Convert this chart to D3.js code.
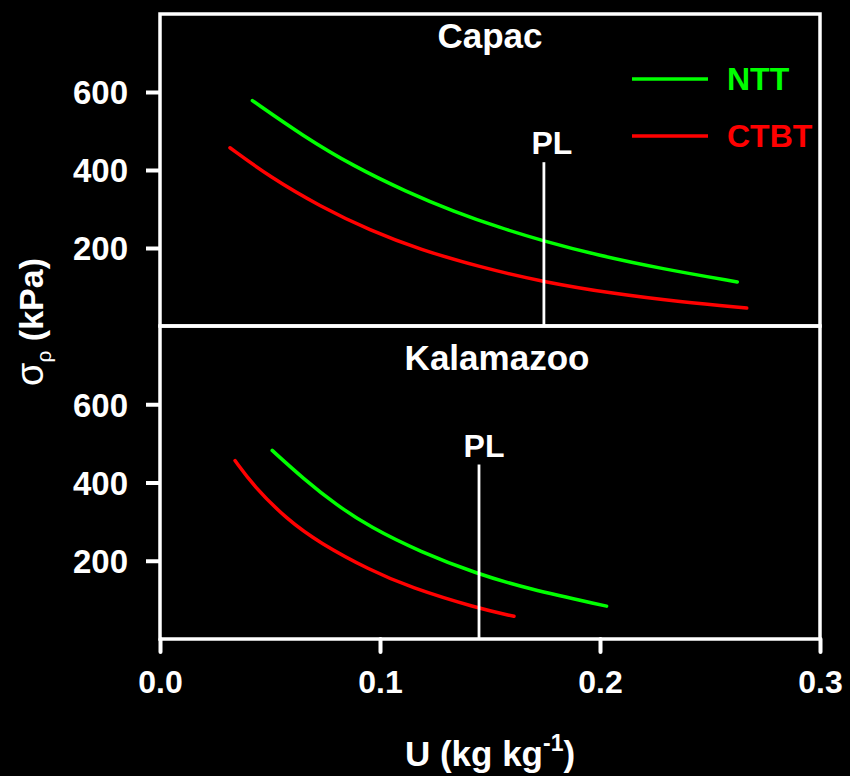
<!DOCTYPE html>
<html>
<head>
<meta charset="utf-8">
<script src="https://cdn.jsdelivr.net/npm/d3@7"></script>
<style>
  html, body { margin: 0; padding: 0; background: #000; }
  svg { display: block; }
</style>
</head>
<body>
<svg id="chart" width="850" height="776"></svg>
<script>
// Preconsolidation stress vs. water content for two soils
const panelNames = ["Capac", "Kalamazoo"];
const seriesNames = ["NTT", "CTBT"];
const seriesColors = ["#00ff00", "#ff0000"];

const xTicks = [0.0, 0.1, 0.2, 0.3];
const yTicks = [200, 400, 600];

// Capac
const capacNttU = [0.042, 0.0651, 0.0879, 0.1121, 0.1333, 0.1545, 0.1742, 0.1985, 0.2288, 0.2624];
const capacNttS = [578, 487, 410, 344, 294, 252, 218, 182, 146, 113];
const capacCtbtU = [0.0318, 0.05, 0.0727, 0.0955, 0.1182, 0.1455, 0.1742, 0.206, 0.2364, 0.2667];
const capacCtbtS = [457, 382, 307, 245, 196, 151, 113, 83, 62, 46];
const capacPL = 0.1745;

// Kalamazoo
const kalNttU = [0.051, 0.0651, 0.0803, 0.0955, 0.1182, 0.144, 0.1667, 0.203];
const kalNttS = [482, 410, 342, 286, 223, 167, 129, 84];
const kalCtbtU = [0.0341, 0.0424, 0.0576, 0.0727, 0.0955, 0.1136, 0.144, 0.1609];
const kalCtbtS = [456, 392, 306, 245, 176, 132, 79, 58];
const kalPL = 0.145;

const plTop = [420, 446];   // upper end of each PL marker (kPa)

const panels = [
  { name: panelNames[0], series: [[capacNttU, capacNttS], [capacCtbtU, capacCtbtS]], pl: capacPL, plTop: plTop[0] },
  { name: panelNames[1], series: [[kalNttU, kalNttS], [kalCtbtU, kalCtbtS]], pl: kalPL, plTop: plTop[1] }
];

const svg = d3.select("#chart");
const W = 850, H = 776;
svg.append("rect").attr("width", W).attr("height", H).attr("fill", "#000");

const left = 160, right = 820;
const panelBounds = [[14, 326], [326, 639]];
const boldFont = "'Liberation Sans', Arial, sans-serif";
const narrowFont = "'Liberation Sans Narrow', 'Arial Narrow', 'Liberation Sans', sans-serif";

const x = d3.scaleLinear().domain([0, 0.3]).range([left, right]);

panels.forEach((p, i) => {
  const [top, bottom] = panelBounds[i];
  const y = d3.scaleLinear().domain([0, 800]).range([bottom, top]);
  const g = svg.append("g");

  // y axis ticks
  const ya = g.append("g")
    .attr("transform", `translate(${left},0)`)
    .call(d3.axisLeft(y).tickValues(yTicks).tickSize(14).tickPadding(18).tickFormat(d3.format("d")));
  ya.select(".domain").remove();
  ya.selectAll(".tick line").attr("stroke", "#fff").attr("stroke-width", 4);
  ya.selectAll(".tick text")
    .attr("fill", "#fff")
    .attr("font-family", boldFont)
    .attr("font-weight", "bold")
    .attr("font-size", 33)
    .attr("dy", "0.36em");

  // fitted curves
  const line = d3.line().x(d => x(d[0])).y(d => y(d[1])).curve(d3.curveBasis);
  p.series.forEach((s, k) => {
    const pts = s[0].map((u, j) => [u, s[1][j]]);
    g.append("path")
      .attr("d", line(pts))
      .attr("fill", "none")
      .attr("stroke", seriesColors[k])
      .attr("stroke-width", 3.5)
      .attr("stroke-linecap", "round");
  });

  // PL marker
  g.append("line")
    .attr("x1", x(p.pl)).attr("x2", x(p.pl))
    .attr("y1", y(p.plTop)).attr("y2", bottom)
    .attr("stroke", "#fff").attr("stroke-width", 2.8);
  g.append("text")
    .attr("x", x(p.pl) + (i === 0 ? 8 : 5))
    .attr("y", y(p.plTop) - 8)
    .attr("text-anchor", "middle")
    .attr("fill", "#fff")
    .attr("font-family", boldFont)
    .attr("font-weight", "bold")
    .attr("font-size", 32)
    .text("PL");

  // panel title
  g.append("text")
    .attr("x", i === 0 ? 490 : 497)
    .attr("y", i === 0 ? 48 : 370)
    .attr("text-anchor", "middle")
    .attr("fill", "#fff")
    .attr("font-family", boldFont)
    .attr("font-weight", "bold")
    .attr("font-size", 35)
    .text(p.name);

  // frame
  g.append("rect")
    .attr("x", left).attr("y", top)
    .attr("width", right - left).attr("height", bottom - top)
    .attr("fill", "none")
    .attr("stroke", "#fff")
    .attr("stroke-width", 3.5);
});

// x axis along the lower panel
const xa = svg.append("g")
  .attr("transform", `translate(0,${panelBounds[1][1]})`)
  .call(d3.axisBottom(x).tickValues(xTicks).tickSize(13).tickPadding(18).tickFormat(d3.format(".1f")));
xa.select(".domain").remove();
xa.selectAll(".tick line").attr("stroke", "#fff").attr("stroke-width", 4).attr("stroke-linecap", "round");
xa.selectAll(".tick text")
  .attr("fill", "#fff")
  .attr("font-family", narrowFont)
  .attr("font-weight", "bold")
  .attr("font-size", 32);

// legend
const legendY = [79, 136];
seriesNames.forEach((n, k) => {
  svg.append("line")
    .attr("x1", 632).attr("x2", 708)
    .attr("y1", legendY[k]).attr("y2", legendY[k])
    .attr("stroke", seriesColors[k]).attr("stroke-width", 3.5);
  svg.append("text")
    .attr("x", 727).attr("y", legendY[k] + 11)
    .attr("fill", seriesColors[k])
    .attr("font-family", boldFont)
    .attr("font-weight", "bold")
    .attr("font-size", 32)
    .text(n);
});

// axis titles
const xt = svg.append("text")
  .attr("x", 490).attr("y", 766)
  .attr("text-anchor", "middle")
  .attr("fill", "#fff")
  .attr("font-family", narrowFont)
  .attr("font-weight", "bold")
  .attr("font-size", 35);
xt.append("tspan").text("U (kg kg");
xt.append("tspan").attr("dy", -15).attr("font-size", 23).text("-1");
xt.append("tspan").attr("dy", 15).text(")");

const yt = svg.append("text")
  .attr("transform", "translate(43,322) rotate(-90)")
  .attr("text-anchor", "middle")
  .attr("fill", "#fff")
  .attr("font-family", boldFont)
  .attr("font-size", 34);
yt.append("tspan").attr("font-weight", "normal").attr("font-size", 38).text("σ");
yt.append("tspan").attr("font-weight", "normal").attr("font-size", 21).attr("dy", 8).text("ρ");
yt.append("tspan").attr("font-weight", "bold").attr("dy", -8).text(" (kPa)");
</script>
</body>
</html>
